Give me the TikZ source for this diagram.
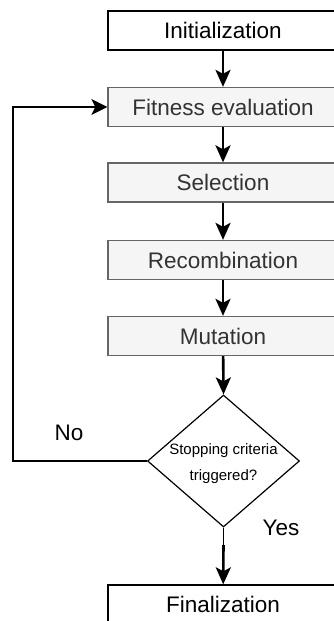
\documentclass[tikz,border=0pt]{standalone}
\usepackage{fontspec}
\setmainfont{Liberation Sans}
\usetikzlibrary{shapes.geometric,arrows.meta}
\definecolor{boxfill}{HTML}{F5F5F5}
\definecolor{boxline}{HTML}{666666}
\definecolor{boxtext}{HTML}{333333}
\begin{document}
\begin{tikzpicture}[x=1pt,y=-1pt,
  plainbox/.style={draw=black,line width=1.3pt,fill=white,minimum width=230pt,
    minimum height=39pt,inner sep=0pt,font=\fontsize{22.5}{26}\selectfont},
  stepbox/.style={draw=boxline,line width=1.3pt,fill=boxfill,text=boxtext,
    minimum width=230pt,minimum height=39pt,inner sep=0pt,
    font=\fontsize{22.5}{26}\selectfont},
  decision/.style={draw=black,line width=1.2pt,shape=diamond,inner sep=0pt,
    minimum width=152pt,minimum height=132pt},
  flow/.style={line width=2.6pt,-{Stealth[length=17pt,width=15pt,inset=4pt]}},
  back/.style={line width=1.4pt,-{Stealth[length=16pt,width=16pt,inset=4pt]}},
  lbl/.style={font=\fontsize{22.5}{26}\selectfont,inner sep=0pt}]
  \useasboundingbox (0,0) rectangle (333,621);

  % main chain of steps
  \node[plainbox] (init) at (223,30.5) {Initialization};
  \node[stepbox] (fit) at (223,107) {Fitness evaluation};
  \node[stepbox] (sel) at (223,182.5) {Selection};
  \node[stepbox] (rec) at (223,260) {Recombination};
  \node[stepbox] (mut) at (223,336) {Mutation};
  \node[decision] (stop) at (223.5,461) {};
  \node[font=\fontsize{15}{26}\selectfont,align=center,inner sep=0pt]
    (stoptext) at (223.5,464) {Stopping criteria\\triggered?};
  \node[plainbox] (fin) at (223,604.5) {Finalization};

  % branch labels
  \node[lbl] (no) at (69,433) {No};
  \node[lbl] (yes) at (281,528) {Yes};

  % connectors
  \draw[flow] (init) -- (fit);
  \draw[flow] (fit) -- (sel);
  \draw[flow] (sel) -- (rec);
  \draw[flow] (rec) -- (mut);
  \draw[flow] (mut) -- (stop.north);
  % the Yes exit starts thin and thickens before the arrow
  \coordinate (yesbend) at (223.5,545);
  \draw[line width=1.2pt] (stop.south) -- (yesbend);
  \draw[flow] (yesbend) -- (fin);
  \coordinate (corner) at (13,461);
  \draw[back] (stop.west) -- (corner) |- (fit.west);
\end{tikzpicture}
\end{document}
